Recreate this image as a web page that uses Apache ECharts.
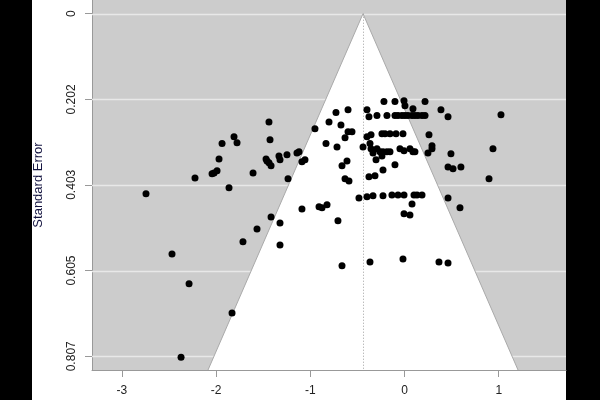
<!DOCTYPE html>
<html>
<head>
<meta charset="utf-8">
<script src="https://cdn.jsdelivr.net/npm/echarts@6/dist/echarts.min.js"></script>
<style>
html,body{margin:0;padding:0;background:#000;}
#chart{width:600px;height:400px;}
</style>
</head>
<body>
<div id="chart"></div>
<script>
// ---- data ----
const xTicks = [-3, -2, -1, 0, 1];
const xTickLabels = ['-3', '-2', '-1', '0', '1'];
const yTicks = [0, 0.202, 0.403, 0.605, 0.807];
const yTickLabels = ['0', '0.202', '0.403', '0.605', '0.807'];
const centerEstimate = -0.44;
const seMax = 0.8393;
const xRange = [-3.316, 1.714];
const yRange = [-0.0323, 0.8393];

const estimate = [
  -2.743, -2.467, -2.286, -2.371, -1.830, -2.223, -2.042, -2.021, -1.989, -1.607,
  -1.236, -1.862, -1.088, -0.907, -0.875, -0.822, -0.631, -0.589, -1.416, -1.321,
  -0.706, -1.565, -1.714, -1.321, -0.663, -1.438, -1.809, -1.936, -1.777, -1.427,
  -0.950, -0.801, -0.833, -1.968, -1.469, -1.459, -1.438, -1.416, -1.332, -1.321,
  -1.247, -1.141, -1.119, -1.088, -1.056,
  -0.218, -0.101, -0.005, 0.005, 0.218, 0.090, 0.387, 0.462, 1.024, -0.727,
  -0.599, -0.398, -0.377, -0.292, -0.186,
  -0.101, -0.069, -0.027, 0.005, 0.037, 0.080, 0.111, 0.143, 0.186, 0.218,
  -0.674, -0.599, -0.557, -0.631, -0.398, -0.355,
  -0.239, -0.207, -0.154, -0.090, -0.016, 0.260,
  -0.716, -0.440, -0.366, -0.355, 0.292, 0.292, 0.249,
  -0.048, -0.005, 0.058, 0.090, 0.111,
  -0.334, -0.292, -0.260, -0.228, -0.186, -0.154,
  -0.239, -0.302, 0.493, -0.610, -0.663, -0.101, -0.228, 0.462, 0.515, 0.599,
  -0.377, -0.313, 0.897, 0.939,
  -0.483, -0.398, -0.334, -0.228, -0.133, -0.069, -0.005, 0.101, 0.133, 0.186,
  0.462, 0.080, -0.005, 0.058, 0.589, -0.366, -0.016, 0.366, 0.462
];
const stdError = [
  0.424, 0.566, 0.636, 0.809, 0.705, 0.387, 0.377, 0.375, 0.370, 0.375,
  0.389, 0.410, 0.460, 0.455, 0.457, 0.450, 0.389, 0.394, 0.479, 0.493,
  0.488, 0.507, 0.537, 0.545, 0.594, 0.255, 0.290, 0.306, 0.304, 0.297,
  0.271, 0.255, 0.306, 0.342, 0.342, 0.347, 0.351, 0.358, 0.335, 0.344,
  0.332, 0.328, 0.325, 0.349, 0.344,
  0.207, 0.207, 0.205, 0.217, 0.207, 0.224, 0.226, 0.243, 0.238, 0.233,
  0.226, 0.226, 0.243, 0.240, 0.240,
  0.240, 0.240, 0.240, 0.240, 0.240, 0.240, 0.240, 0.240, 0.240, 0.240,
  0.262, 0.278, 0.278, 0.292, 0.290, 0.285,
  0.283, 0.283, 0.283, 0.283, 0.283, 0.285,
  0.314, 0.314, 0.306, 0.318, 0.311, 0.318, 0.328,
  0.318, 0.323, 0.318, 0.325, 0.325,
  0.328, 0.318, 0.325, 0.325, 0.325, 0.325,
  0.335, 0.344, 0.330, 0.347, 0.358, 0.356, 0.368, 0.361, 0.365, 0.361,
  0.384, 0.382, 0.389, 0.318,
  0.434, 0.431, 0.429, 0.429, 0.427, 0.427, 0.427, 0.427, 0.427, 0.427,
  0.434, 0.448, 0.471, 0.474, 0.457, 0.585, 0.578, 0.585, 0.587
];

const points = estimate.map((x, i) => [x, stdError[i]]);

const chart = echarts.init(document.getElementById('chart'), null, {renderer: 'canvas'});
const font = 'Liberation Sans, Arial, Helvetica, sans-serif';

const option = {
  animation: false,
  backgroundColor: '#000000',
  graphic: [
    {type: 'rect', z: -10, silent: true, shape: {x: 32, y: 0, width: 534, height: 400}, style: {fill: '#ffffff'}}
  ],
  grid: {
    left: 92, right: 34, top: 0, bottom: 30,
    show: true, backgroundColor: '#cccccc', borderWidth: 0
  },
  xAxis: {
    type: 'value',
    min: xRange[0], max: xRange[1],
    axisLine: {show: true, onZero: false, lineStyle: {color: '#999999', width: 1}},
    axisTick: {show: true, length: 7, customValues: xTicks, lineStyle: {color: '#999999'}},
    axisLabel: {
      customValues: xTicks, margin: 15, color: '#222222', fontSize: 12, fontFamily: font,
      formatter: v => { const i = xTicks.findIndex(t => Math.abs(t - v) < 1e-6); return i >= 0 ? xTickLabels[i] : ''; }
    },
    splitLine: {show: false}
  },
  yAxis: {
    type: 'value',
    inverse: true,
    min: yRange[0], max: yRange[1],
    name: 'Standard Error',
    nameLocation: 'middle',
    nameRotate: 90,
    nameGap: 47,
    nameTextStyle: {color: '#141440', fontSize: 13, fontFamily: font},
    axisLine: {show: true, onZero: false, lineStyle: {color: '#999999', width: 1}},
    axisTick: {show: true, length: 7, customValues: yTicks, lineStyle: {color: '#999999'}},
    axisLabel: {
      customValues: yTicks, rotate: 90, margin: 14, color: '#222222', fontSize: 12, fontFamily: font,
      formatter: v => { const i = yTicks.findIndex(t => Math.abs(t - v) < 1e-6); return i >= 0 ? yTickLabels[i] : ''; }
    },
    splitLine: {show: false}
  },
  series: [
    {
      type: 'custom', name: 'gridlines', z: 1, silent: true,
      data: yTicks.map(v => [v]),
      renderItem: (params, api) => {
        const v = api.value(0);
        const a = api.coord([xRange[0], v]);
        const b = api.coord([xRange[1], v]);
        return {type: 'line', shape: {x1: a[0], y1: Math.round(a[1]) + 0.5, x2: b[0], y2: Math.round(b[1]) + 0.5},
          style: {stroke: '#e8e8e8', lineWidth: 1.5}};
      }
    },
    {
      type: 'custom', name: 'funnel', z: 2, silent: true,
      data: [[centerEstimate, seMax]],
      renderItem: (params, api) => {
        const c = api.value(0), s = api.value(1);
        const top = api.coord([c, 0]);
        const bl = api.coord([c - 1.96 * s, s]);
        const br = api.coord([c + 1.96 * s, s]);
        return {type: 'group', children: [
          {type: 'polygon', shape: {points: [top, bl, br]}, style: {fill: '#ffffff', stroke: null}},
          {type: 'polyline', shape: {points: [bl, top, br]}, style: {stroke: '#aaaaaa', lineWidth: 1, fill: null}}
        ]};
      }
    },
    {
      type: 'custom', name: 'center', z: 3, silent: true,
      data: [[centerEstimate, seMax]],
      renderItem: (params, api) => {
        const c = api.value(0), s = api.value(1);
        const a = api.coord([c, 0]);
        const b = api.coord([c, s]);
        return {type: 'line', shape: {x1: Math.round(a[0]) + 0.5, y1: a[1], x2: Math.round(b[0]) + 0.5, y2: b[1]},
          style: {stroke: '#a0a0a0', lineWidth: 1, lineDash: [1, 2]}};
      }
    },
    {
      type: 'scatter', name: 'studies', z: 4,
      data: points,
      symbol: 'circle', symbolSize: 7,
      itemStyle: {color: '#000000', opacity: 1}
    }
  ]
};
chart.setOption(option);
</script>
</body>
</html>
